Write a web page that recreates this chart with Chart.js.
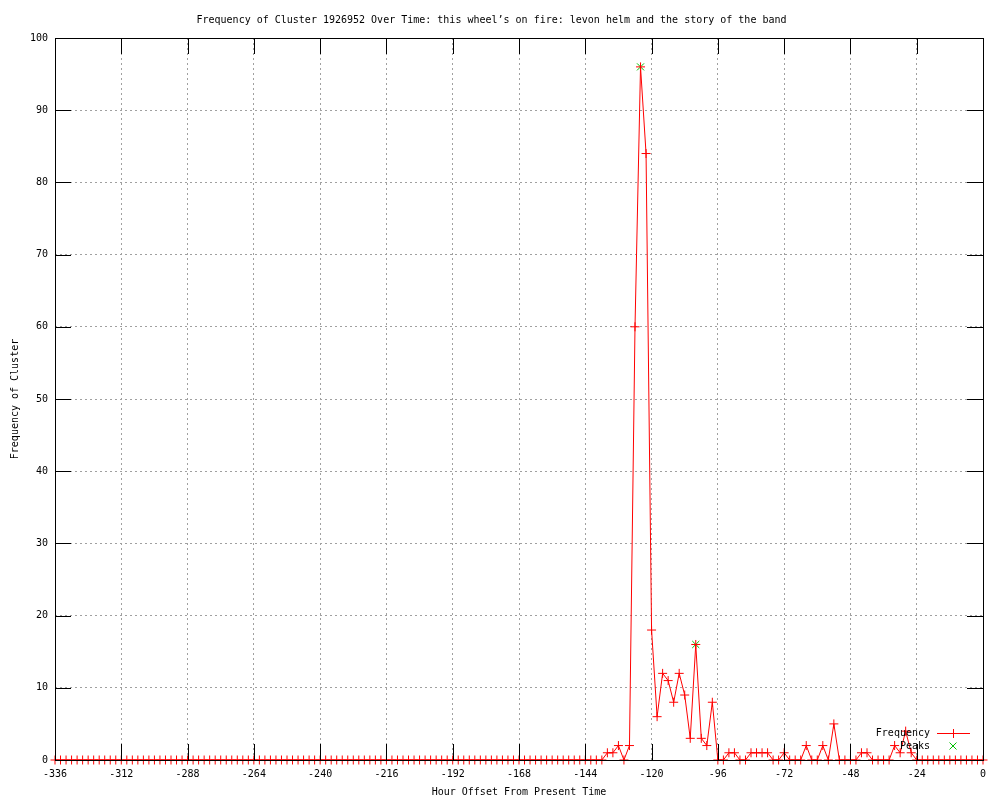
<!DOCTYPE html>
<html>
<head>
<meta charset="utf-8">
<script src="https://cdn.jsdelivr.net/npm/chart.js@4"></script>
<style>
    html, body { margin: 0; padding: 0; background: #fff; }
    #wrap { width: 1000px; height: 800px; }
</style>
</head>
<body>
<div id="wrap"><canvas id="clusterChart" width="1000" height="800"></canvas></div>
<script>
const TITLE = "Frequency of Cluster 1926952 Over Time: this wheel\u2019s on fire: levon helm and the story of the band";

// hour offsets, one row per day (2-hour bins)
const hourOffsets = [
    -336, -334, -332, -330, -328, -326, -324, -322, -320, -318, -316, -314,
    -312, -310, -308, -306, -304, -302, -300, -298, -296, -294, -292, -290,
    -288, -286, -284, -282, -280, -278, -276, -274, -272, -270, -268, -266,
    -264, -262, -260, -258, -256, -254, -252, -250, -248, -246, -244, -242,
    -240, -238, -236, -234, -232, -230, -228, -226, -224, -222, -220, -218,
    -216, -214, -212, -210, -208, -206, -204, -202, -200, -198, -196, -194,
    -192, -190, -188, -186, -184, -182, -180, -178, -176, -174, -172, -170,
    -168, -166, -164, -162, -160, -158, -156, -154, -152, -150, -148, -146,
    -144, -142, -140, -138, -136, -134, -132, -130, -128, -126, -124, -122,
    -120, -118, -116, -114, -112, -110, -108, -106, -104, -102, -100, -98,
    -96, -94, -92, -90, -88, -86, -84, -82, -80, -78, -76, -74,
    -72, -70, -68, -66, -64, -62, -60, -58, -56, -54, -52, -50,
    -48, -46, -44, -42, -40, -38, -36, -34, -32, -30, -28, -26,
    -24, -22, -20, -18, -16, -14, -12, -10, -8, -6, -4, -2,
    0
];

const frequency = [
    0, 0, 0, 0, 0, 0, 0, 0, 0, 0, 0, 0,
    0, 0, 0, 0, 0, 0, 0, 0, 0, 0, 0, 0,
    0, 0, 0, 0, 0, 0, 0, 0, 0, 0, 0, 0,
    0, 0, 0, 0, 0, 0, 0, 0, 0, 0, 0, 0,
    0, 0, 0, 0, 0, 0, 0, 0, 0, 0, 0, 0,
    0, 0, 0, 0, 0, 0, 0, 0, 0, 0, 0, 0,
    0, 0, 0, 0, 0, 0, 0, 0, 0, 0, 0, 0,
    0, 0, 0, 0, 0, 0, 0, 0, 0, 0, 0, 0,
    0, 0, 0, 0, 1, 1, 2, 0, 2, 60, 96, 84,
    18, 6, 12, 11, 8, 12, 9, 3, 16, 3, 2, 8,
    0, 0, 1, 1, 0, 0, 1, 1, 1, 1, 0, 0,
    1, 0, 0, 0, 2, 0, 0, 2, 0, 5, 0, 0,
    0, 0, 1, 1, 0, 0, 0, 0, 2, 1, 4, 1,
    0, 0, 0, 0, 0, 0, 0, 0, 0, 0, 0, 0,
    0
];

const peakHours = [-124, -104];
const peakValues = [96, 16];

const FONT = { family: "'DejaVu Sans Mono', monospace", size: 10, lineHeight: 1.2 };
const RED = '#ff0000';
const GREEN = '#00c000';
const TICK_LEN = 16;

// black frame + inward ticks, drawn over the data like gnuplot does
const framePlugin = {
    id: 'frame',
    afterDatasetsDraw(chart) {
        const { ctx, chartArea: a, scales } = chart;
        ctx.save();
        ctx.strokeStyle = '#000';
        ctx.lineWidth = 1;
        ctx.beginPath();
        scales.x.ticks.forEach(t => {
            const px = Math.round(scales.x.getPixelForValue(t.value)) + 0.5;
            ctx.moveTo(px, a.bottom);
            ctx.lineTo(px, a.bottom - TICK_LEN);
            ctx.moveTo(px, a.top);
            ctx.lineTo(px, a.top + TICK_LEN);
        });
        scales.y.ticks.forEach(t => {
            const py = Math.round(scales.y.getPixelForValue(t.value)) + 0.5;
            ctx.moveTo(a.left, py);
            ctx.lineTo(a.left + TICK_LEN, py);
            ctx.moveTo(a.right, py);
            ctx.lineTo(a.right - TICK_LEN, py);
        });
        ctx.stroke();
        ctx.strokeRect(Math.round(a.left) + 0.5, Math.round(a.top) + 0.5,
            Math.round(a.right - a.left), Math.round(a.bottom - a.top));
        ctx.restore();
    }
};

// gnuplot style key in the bottom right corner
const keyPlugin = {
    id: 'key',
    afterDraw(chart) {
        const { ctx } = chart;
        const textRight = 930;
        const sampleX = 953;
        ctx.save();
        ctx.font = `${FONT.size}px ${FONT.family}`;
        ctx.fillStyle = '#000';
        ctx.textAlign = 'right';
        ctx.textBaseline = 'middle';
        ctx.fillText('Frequency', textRight, 733);
        ctx.fillText('Peaks', textRight, 746);

        // red line sample with a plus in the middle
        ctx.fillStyle = RED;
        ctx.fillRect(937, 733, 33, 1);
        ctx.fillRect(sampleX, 729, 1, 9);

        ctx.lineWidth = 1;
        ctx.strokeStyle = GREEN;
        ctx.beginPath();
        ctx.moveTo(sampleX - 3.5, 742.5);
        ctx.lineTo(sampleX + 3.5, 749.5);
        ctx.moveTo(sampleX + 3.5, 742.5);
        ctx.lineTo(sampleX - 3.5, 749.5);
        ctx.stroke();
        ctx.restore();
    }
};

function buildChart() {
    const canvas = document.getElementById('clusterChart');
    const freqPoints = hourOffsets.map((h, i) => ({ x: h, y: frequency[i] }));
    const peakPoints = peakHours.map((h, i) => ({ x: h, y: peakValues[i] }));

    return new Chart(canvas, {
        type: 'line',
        data: {
            datasets: [
                {
                    label: 'Frequency',
                    data: freqPoints,
                    borderColor: RED,
                    backgroundColor: RED,
                    borderWidth: 1,
                    tension: 0,
                    pointStyle: 'cross',
                    pointRadius: 4.5,
                    pointBorderWidth: 1,
                    pointBorderColor: RED,
                    clip: false
                },
                {
                    label: 'Peaks',
                    data: peakPoints,
                    showLine: false,
                    borderColor: GREEN,
                    backgroundColor: GREEN,
                    pointStyle: 'crossRot',
                    pointRadius: 5,
                    pointBorderWidth: 1,
                    pointBorderColor: GREEN,
                    clip: false
                }
            ]
        },
        options: {
            responsive: false,
            animation: false,
            events: [],
            layout: {
                padding: { left: 0, right: 17, top: 0, bottom: 0 }
            },
            scales: {
                x: {
                    type: 'linear',
                    min: -336,
                    max: 0,
                    afterFit: scale => { scale.height = 40; },
                    ticks: {
                        stepSize: 24,
                        autoSkip: false,
                        maxRotation: 0,
                        padding: 8,
                        color: '#000',
                        font: FONT
                    },
                    grid: {
                        color: '#a0a0a0',
                        drawTicks: false
                    },
                    border: { display: false, dash: [2, 3] },
                    title: {
                        display: true,
                        text: 'Hour Offset From Present Time',
                        color: '#000',
                        font: FONT,
                        padding: { top: 0, bottom: 2 }
                    }
                },
                y: {
                    min: 0,
                    max: 100,
                    afterFit: scale => { scale.width = 55; },
                    ticks: {
                        stepSize: 10,
                        padding: 7,
                        color: '#000',
                        font: FONT
                    },
                    grid: {
                        color: '#a0a0a0',
                        drawTicks: false
                    },
                    border: { display: false, dash: [2, 3] },
                    title: {
                        display: true,
                        text: 'Frequency of Cluster',
                        color: '#000',
                        font: FONT,
                        padding: { top: 9, bottom: 0 }
                    }
                }
            },
            plugins: {
                legend: { display: false },
                tooltip: { enabled: false },
                title: {
                    display: true,
                    text: TITLE,
                    color: '#000',
                    font: { family: FONT.family, size: 10, weight: 'normal', lineHeight: 1.2 },
                    padding: { top: 14, bottom: 12 }
                }
            }
        },
        plugins: [framePlugin, keyPlugin]
    });
}

buildChart();
</script>
</body>
</html>
